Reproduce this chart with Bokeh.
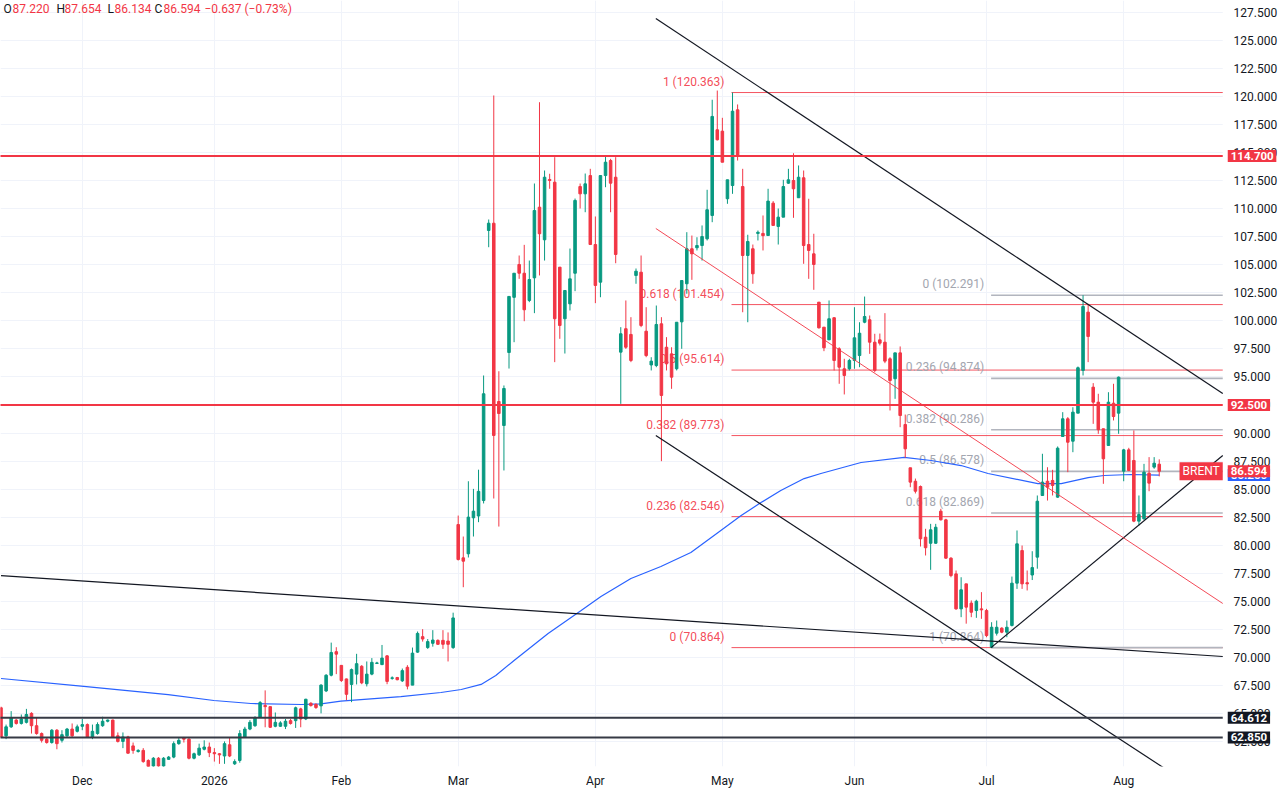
from bokeh.plotting import figure
from bokeh.models import Range1d, FixedTicker, PrintfTickFormatter, Label, ColumnDataSource
from bokeh.core.properties import value
from bokeh.embed import file_html
from bokeh.resources import INLINE

FONT = "Roboto"
GREEN = "#089981"
RED = "#F23645"
DARK = "#131722"

# ---------------- daily OHLC (bar index 0..228) ----------------
opens = [65.5, 63.0, 63.8, 64.4, 64.1, 64.2, 65.0, 63.9, 63.2, 62.7, 62.4, 63.5, 62.6, 63.0, 63.6, 63.4, 63.85, 64.0, 62.9, 63.2,
         63.9, 64.3, 64.4, 63.0, 62.5, 62.9, 62.1, 61.6, 61.7, 60.8, 60.3, 61.0, 60.3, 60.9, 61.1, 62.3, 62.8, 62.7, 61.0, 61.3,
         61.8, 62.0, 61.5, 61.4, 61.2, 62.2, 60.5, 60.8, 62.9, 63.6,
         63.9, 64.65, 65.7, 65.6, 63.85, 63.85, 63.85, 64.35, 64.35, 65.4, 64.5, 65.9, 65.8, 65.67, 67.0, 68.4, 70.5, 69.28, 68.07, 67.58,
         68.5, 69.2, 67.64, 68.5, 69.45, 69.35, 70.13, 68.12, 68.2, 67.9, 69.11, 67.52, 70.46, 71.84, 70.87, 71.25, 71.51, 71.51, 71.45, 70.87,
         81.84, 78.87, 79.23, 82.44, 82.6, 83.98, 108.06, 108.71, 92.81, 90.67,
         97.18, 102.1, 105.03, 104.25, 101.82, 103.84, 110.14, 107.23, 112.61, 112.37, 104.79, 100.19, 101.52, 104.25, 111.98, 111.33,
         112.96, 106.81, 103.45, 112.96, 114.3, 112.81, 97.21, 99.3, 98.79, 104.05, 104.34, 99.08, 96.07, 96.02, 99.74, 97.65, 97.06,
         95.73, 99.91, 103.31, 106.43, 106.52, 106.72, 107.32, 109.4, 117.04, 116.92, 110.89, 112.07, 118.82, 111.98, 105.83, 106.43,
         107.8, 107.8, 107.61, 110.5, 108.42, 109.25, 112.28, 112.52, 110.98, 112.76, 106.81, 105.98, 101.67,
         99.44, 98.31, 100.28, 97.51, 95.73, 95.73, 96.47, 96.91, 99.88, 100.1, 98.1, 98.31, 98.1, 96.62, 94.84, 97.15,
         90.76, 86.9, 85.7, 85.23, 80.71, 80.17, 80.17, 83.03, 82.26, 78.84, 77.44, 74.32, 76.55, 74.83, 74.17, 74.32, 74.17, 70.9,
         72.15, 72.6, 72.24, 72.84, 76.61, 79.52, 76.65, 77.34, 78.93, 84.43, 85.7, 85.77, 84.28, 89.69, 91.27, 89.27, 91.77, 95.58,
         100.78, 94.09, 92.75, 90.38, 88.89, 92.66, 91.77, 86.6, 88.5, 87.55, 82.14, 82.35, 86.42, 86.96, 87.22]
highs = [65.6, 64.0, 65.2, 64.5, 64.9, 65.4, 65.1, 64.6, 63.3, 62.8, 63.6, 63.6, 63.5, 63.7, 64.1, 64.0, 64.5, 64.1, 64.0, 64.2,
         64.7, 64.45, 64.45, 63.3, 63.3, 63.0, 62.4, 61.8, 61.9, 60.9, 61.1, 61.1, 61.1, 61.2, 62.5, 62.8, 62.9, 62.9, 61.5, 62.3,
         62.6, 62.4, 61.9, 61.45, 62.5, 62.8, 60.9, 63.5, 63.8, 64.4,
         64.75, 66.1, 67.05, 65.6, 65.08, 64.3, 64.5, 64.5, 65.6, 65.5, 66.3, 66.0, 65.9, 67.6, 68.5, 71.31, 70.9, 69.3, 68.1, 69.0,
         70.31, 69.3, 69.63, 69.93, 69.6, 71.1, 70.2, 68.3, 68.25, 69.0, 69.3, 70.87, 72.3, 72.51, 71.63, 72.42, 71.6, 72.42, 72.22, 73.98,
         82.64, 80.77, 85.7, 85.02, 86.73, 95.13, 109.04, 120.1, 95.51, 94.24,
         102.18, 104.25, 105.83, 106.78, 105.38, 112.25, 119.5, 113.41, 113.12, 114.6, 104.79, 102.71, 106.45, 110.91, 112.25, 113.14,
         113.56, 109.31, 112.96, 114.75, 114.45, 114.6, 99.44, 101.82, 100.33, 104.67, 105.83, 101.22, 96.76, 101.37, 100.33, 98.55,
         97.65, 99.88, 103.6, 107.91, 107.61, 107.46, 108.51, 111.69, 119.72, 120.54, 118.11, 112.58, 120.363, 119.3, 113.56, 107.68,
         106.81, 108.06, 109.4, 111.78, 110.68, 110.02, 112.58, 113.56, 114.95, 113.86, 113.41, 110.89, 107.77, 101.67,
         99.44, 101.82, 100.33, 97.65, 96.62, 96.62, 101.22, 99.88, 102.17, 100.48, 98.85, 98.87, 100.69, 96.76, 97.15, 97.72,
         91.65, 86.9, 85.94, 85.32, 81.46, 81.9, 81.9, 83.24, 82.35, 78.93, 77.74, 77.14, 76.55, 75.07, 75.13, 75.81, 74.32, 73.13,
         73.28, 72.68, 73.28, 77.2, 81.31, 79.97, 77.74, 79.46, 84.43, 88.15, 86.95, 86.72, 88.8, 91.86, 91.42, 92.3, 95.93, 102.291,
         101.52, 94.45, 93.5, 90.38, 93.64, 94.39, 95.04, 88.59, 88.68, 90.23, 84.43, 87.25, 87.85, 87.85, 87.654]
lows = [62.8, 62.7, 63.7, 64.0, 64.0, 64.1, 63.2, 63.1, 62.4, 62.3, 62.3, 61.8, 62.4, 62.9, 62.9, 63.3, 63.5, 62.8, 62.7, 63.1,
        63.8, 64.2, 62.85, 62.4, 61.9, 61.4, 61.4, 61.5, 60.6, 60.1, 60.2, 60.2, 60.2, 60.85, 61.0, 62.2, 62.4, 60.9, 60.9, 61.2,
        61.7, 61.1, 60.7, 60.5, 60.5, 61.1, 60.4, 60.6, 62.8, 63.5,
        63.8, 64.6, 63.76, 63.7, 63.76, 63.8, 63.6, 64.0, 63.7, 63.76, 64.4, 65.6, 65.4, 65.0, 66.9, 68.3, 68.5, 67.8, 66.17, 66.0,
        67.58, 67.6, 67.4, 68.4, 69.4, 69.3, 67.6, 68.0, 67.95, 67.8, 67.14, 67.52, 70.4, 71.4, 70.75, 70.95, 71.1, 70.75, 69.63, 70.75,
        78.63, 76.25, 78.9, 80.77, 82.05, 83.72, 106.57, 84.16, 81.66, 86.66,
        95.75, 98.1, 103.75, 99.97, 101.67, 100.69, 104.05, 105.38, 111.78, 96.32, 98.4, 97.09, 100.93, 102.65, 110.02, 109.69,
        106.81, 101.58, 102.11, 111.92, 109.69, 105.14, 92.6, 97.5, 96.32, 103.31, 99.44, 96.76, 95.58, 95.87, 87.49, 95.58,
        93.94, 95.58, 97.51, 102.42, 103.66, 106.28, 105.38, 107.17, 108.8, 116.09, 114.15, 110.44, 111.33, 114.3, 100.77, 99.88,
        103.31, 107.17, 106.28, 107.61, 108.51, 106.81, 109.25, 112.22, 109.19, 110.98, 105.09, 103.75, 102.77, 99.32,
        97.3, 98.31, 95.58, 94.39, 93.44, 95.58, 95.73, 95.87, 99.79, 97.06, 95.42, 97.81, 96.23, 92.01, 93.05, 90.52,
        87.79, 85.17, 84.61, 79.88, 79.08, 77.8, 80.12, 82.2, 78.78, 77.14, 74.24, 73.58, 73.0, 73.58, 73.52, 73.43, 71.79, 70.864,
        71.94, 72.15, 71.79, 72.75, 76.1, 76.1, 75.96, 76.89, 77.9, 84.43, 83.98, 84.43, 84.22, 89.69, 86.51, 88.29, 91.77, 95.13,
        96.32, 90.82, 89.93, 85.47, 88.89, 91.12, 89.93, 85.7, 86.6, 82.05, 81.75, 82.26, 84.81, 86.81, 86.134]
closes = [62.9, 63.8, 64.6, 64.1, 64.5, 64.9, 63.9, 63.2, 62.6, 62.4, 63.5, 62.3, 63.1, 63.6, 63.0, 63.8, 64.0, 62.9, 63.4, 64.0,
          64.3, 64.4, 62.9, 62.5, 62.9, 61.45, 61.7, 61.7, 60.7, 60.2, 61.0, 60.3, 61.0, 61.1, 62.3, 62.6, 62.7, 61.0, 61.4, 61.9,
          62.0, 61.5, 61.4, 61.3, 62.3, 61.2, 60.7, 63.2, 63.6, 64.2,
          64.6, 65.96, 65.6, 63.76, 64.2, 64.15, 64.3, 64.1, 65.5, 64.5, 66.26, 65.7, 65.52, 67.52, 68.4, 70.43, 70.28, 67.93, 66.7, 68.9,
          69.43, 67.72, 68.5, 69.55, 69.5, 69.93, 67.85, 68.17, 68.0, 68.81, 67.43, 70.37, 72.13, 71.63, 71.4, 71.54, 71.16, 71.16, 71.16, 73.51,
          78.72, 78.57, 82.5, 83.03, 84.8, 93.5, 108.71, 89.78, 91.74, 93.97,
          102.18, 104.25, 104.25, 100.99, 103.69, 109.84, 107.77, 112.81, 112.52, 100.19, 99.59, 102.71, 103.75, 110.74, 111.33, 112.22,
          106.81, 103.16, 112.96, 114.15, 112.28, 105.92, 98.85, 97.65, 96.47, 104.43, 99.59, 96.91, 96.41, 99.68, 93.35, 96.17,
          94.98, 99.88, 103.6, 106.43, 105.98, 106.72, 107.52, 109.91, 118.23, 116.15, 114.15, 112.58, 118.7, 114.75, 105.83, 107.08,
          104.2, 107.9, 107.6, 110.68, 108.51, 109.25, 111.98, 112.58, 111.78, 112.81, 106.72, 106.28, 105.03, 99.38,
          97.6, 100.19, 96.47, 95.87, 95.13, 96.47, 98.49, 98.9, 100.39, 98.1, 95.58, 98.01, 96.41, 94.68, 97.15, 91.56,
          88.59, 85.62, 84.81, 80.57, 79.77, 81.37, 81.6, 82.26, 78.84, 77.29, 74.32, 76.02, 74.47, 74.02, 75.0, 74.23, 71.94, 72.68,
          72.68, 72.24, 72.68, 76.61, 80.12, 76.55, 76.55, 78.0, 83.92, 85.62, 85.17, 85.32, 88.65, 91.27, 89.18, 91.86, 95.82, 101.28,
          98.61, 92.75, 90.29, 87.7, 92.75, 91.47, 94.98, 88.5, 86.66, 82.14, 82.73, 86.51, 85.53, 87.31, 86.594]

# moving average (read at points)
ma_bar = [0, 16.3, 32.9, 41.9, 49.2, 59.1, 63.0, 66.9, 78.7, 86.6, 90.6, 94.5, 97.4, 101.0, 107.7, 114.2, 118.1, 124.0,
          129.9, 135.8, 141.7, 145.7, 149.6, 153.5, 158.1, 161.4, 169.3, 177.8, 183.1, 189.0, 194.3, 204.1, 208.7, 214.0,
          217.1, 222.4, 228.0]
ma_val = [68.11, 67.40, 66.68, 66.15, 65.88, 65.79, 65.84, 66.10, 66.50, 66.86, 67.13, 67.58, 68.38, 69.72, 72.12, 74.17,
          75.42, 77.03, 78.10, 79.35, 81.31, 82.64, 83.80, 84.87, 85.94, 86.39, 87.37, 87.82, 87.55, 87.10, 86.39, 85.49,
          85.49, 86.03, 86.21, 86.30, 86.25]

# month ticks (bar index)
month_ticks = [16, 42, 67, 90, 117, 142, 168, 194, 221]
month_labels = ["Dec", "2026", "Feb", "Mar", "Apr", "May", "Jun", "Jul", "Aug"]

# drawings
red_levels = [114.7, 92.5]
black_levels = [64.612, 62.85]
trend_x0 = [0.0, 128.9, 128.9, 194.9]
trend_y0 = [77.29, 126.96, 89.78, 70.864]
trend_x1 = [240.5, 240.5, 240.5, 240.5]
trend_y1 = [70.07, 93.52, 56.7, 88.0]
red_trend_x = [128.9, 240.5]
red_trend_y = [108.24, 74.8]

fib1_start = 143.8
fib1_ratios = ["1", "0.618", "0.5", "0.382", "0.236", "0"]
fib1_levels = [120.363, 101.454, 95.614, 89.773, 82.546, 70.864]
fib2_start = 194.9
fib2_ratios = ["0", "0.236", "0.382", "0.5", "0.618", "1"]
fib2_levels = [102.291, 94.874, 90.286, 86.578, 82.869, 70.864]

# ---------------- layout ----------------
FW, FH = 1276, 766
PPB = 5.08                      # pixels per bar
X0 = -0.1
X1 = X0 + FW / PPB
XE = 240.5                      # right edge of the price area (price scale starts here)
PPU = 11.214                    # pixels per price unit
Y1 = 128.57
Y0 = Y1 - FH / PPU

p = figure(frame_width=FW, frame_height=FH, x_range=Range1d(X0, X1), y_range=Range1d(Y0, Y1),
           y_axis_location="right", toolbar_location=None, output_backend="svg",
           min_border_left=0, min_border_top=0, min_border_bottom=0, min_border_right=0)
p.outline_line_color = None
p.background_fill_color = "white"
p.border_fill_color = "white"

# grid
p.ygrid.ticker = FixedTicker(ticks=[62.5 + 2.5 * k for k in range(27)])
p.xgrid.ticker = FixedTicker(ticks=month_ticks)
p.grid.grid_line_color = "#F0F3FA"
p.grid.grid_line_width = 1

# axes
p.yaxis.ticker = FixedTicker(ticks=[62.5 + 2.5 * k for k in range(27)])
p.yaxis.formatter = PrintfTickFormatter(format="%.3f")
p.xaxis.ticker = FixedTicker(ticks=month_ticks)
p.xaxis.major_label_overrides = {t: l for t, l in zip(month_ticks, month_labels)}
for ax in (p.xaxis, p.yaxis):
    ax.axis_line_color = None
    ax.major_tick_line_color = None
    ax.minor_tick_line_color = None
    ax.major_tick_out = 0
    ax.major_tick_in = 0
    ax.major_label_text_color = DARK
    ax.major_label_text_font = FONT
    ax.major_label_text_font_size = "12px"
p.yaxis.major_label_standoff = -43   # price scale sits over the right strip of the frame
p.xaxis.major_label_standoff = 7

# white price-scale strip
p.quad(left=[XE], right=[X1 + 5], bottom=[Y0 - 5], top=[Y1 + 5], fill_color="white", line_color=None)

# fib lines
n1, n2 = len(fib1_levels), len(fib2_levels)
p.segment(x0=[fib1_start] * n1, y0=fib1_levels, x1=[XE] * n1, y1=fib1_levels, line_color=RED, line_width=1, line_alpha=0.85)
p.segment(x0=[fib2_start] * n2, y0=fib2_levels, x1=[XE] * n2, y1=fib2_levels, line_color="#B2B5BE", line_width=1.6)
p.text(x=[fib1_start - 7 / PPB] * n1, y=[v + 11 / PPU for v in fib1_levels],
       text=[f"{r} ({v:.3f})" for r, v in zip(fib1_ratios, fib1_levels)],
       text_color=RED, text_alpha=0.9, text_font=value(FONT), text_font_size=value("12px"),
       text_align="right", text_baseline="middle")
p.text(x=[fib2_start - 7 / PPB] * n2, y=[v + 11 / PPU for v in fib2_levels],
       text=[f"{r} ({v:.3f})" for r, v in zip(fib2_ratios, fib2_levels)],
       text_color="#A3A6AF", text_font=value(FONT), text_font_size=value("12px"),
       text_align="right", text_baseline="middle")

# moving average
p.line(ma_bar, ma_val, line_color="#2962FF", line_width=1.2)

# candles
idx = list(range(len(closes)))
cols = [GREEN if c >= o else RED for o, c in zip(opens, closes)]
src = ColumnDataSource(dict(x=idx, o=opens, h=highs, l=lows, c=closes, col=cols,
                            top=[max(o, c) for o, c in zip(opens, closes)],
                            bot=[min(o, c) for o, c in zip(opens, closes)]))
p.segment(x0="x", y0="l", x1="x", y1="h", line_color="col", line_width=1, source=src)
p.vbar(x="x", width=0.5, top="top", bottom="bot", fill_color="col", line_color="col", line_width=1, source=src)

# trend lines
p.segment(x0=trend_x0, y0=trend_y0, x1=trend_x1, y1=trend_y1, line_color=DARK, line_width=1.2)
p.line(red_trend_x, red_trend_y, line_color=RED, line_width=1, line_alpha=0.9)

# horizontal levels
p.segment(x0=[X0 - 1] * 2, y0=red_levels, x1=[XE] * 2, y1=red_levels, line_color=RED, line_width=2)
p.segment(x0=[X0 - 1] * 2, y0=black_levels, x1=[XE] * 2, y1=black_levels, line_color="#363A45", line_width=2)

# header (OHLC legend)
hpx = [3, 12, 56, 64, 107, 114, 154, 163, 204]
ht = ["O", "87.220", "H", "87.654", "L", "86.134", "C", "86.594", "\u22120.637 (\u22120.73%)"]
hc = [DARK, RED, DARK, RED, DARK, RED, DARK, RED, RED]
p.text(x=[X0 + v / PPB for v in hpx], y=[Y1 - 8 / PPU] * len(hpx), text=ht, text_color=hc,
       text_font=value(FONT), text_font_size=value("12px"), text_align="left", text_baseline="middle")

# price-scale labels
def axis_label(y, txt, bg):
    p.add_layout(Label(x=XE, y=y, text=txt, x_offset=5, text_color="white", text_font=FONT,
                       text_font_size="11.5px", text_font_style="bold", text_align="left",
                       text_baseline="middle", background_fill_color=bg, padding=(3, 2)))

for lv in red_levels:
    axis_label(lv, f"{lv:.3f}", RED)
for lv in black_levels:
    axis_label(lv, f"{lv:.3f}", DARK)
axis_label(ma_val[-1], f"{ma_val[-1]:.3f}", "#2962FF")
axis_label(closes[-1], f"{closes[-1]:.3f}", RED)
p.add_layout(Label(x=XE, y=closes[-1], text="BRENT", x_offset=0, text_color="white", text_font=FONT,
                   text_font_size="12px", text_align="right", text_baseline="middle",
                   background_fill_color=RED, padding=(3, 2)))

open("out.html", "w").write(file_html(p, INLINE))
